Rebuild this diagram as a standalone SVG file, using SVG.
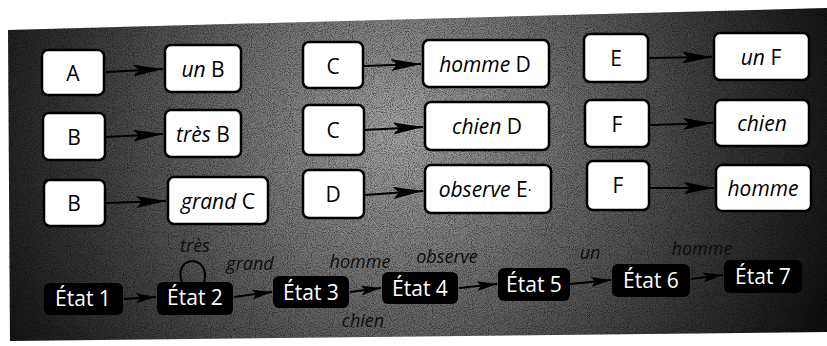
<svg xmlns="http://www.w3.org/2000/svg" width="827" height="346" viewBox="0 0 827 346">
<style>
.box{fill:#fff;stroke:#000;stroke-width:2.5}
.st{fill:#000}
.t{font-family:"Open Sans","DejaVu Sans",sans-serif;font-size:21px;fill:#000;text-anchor:middle;dominant-baseline:central}
.i{font-style:italic}
.w{fill:#fff}
.lbl{font-family:"Open Sans","DejaVu Sans",sans-serif;font-size:18px;font-style:italic;fill:#0d0d0d;text-anchor:middle}
.c{stroke:#000;stroke-width:2;fill:none}
</style>
<defs>
<radialGradient id="bg" cx="400" cy="130" r="460" gradientUnits="userSpaceOnUse">
<stop offset="0" stop-color="#a8a8a8"/>
<stop offset="0.3" stop-color="#7a7a7a"/>
<stop offset="0.7" stop-color="#3a3a3a"/>
<stop offset="1" stop-color="#101010"/>
</radialGradient>
<filter id="noise" x="0" y="0" width="100%" height="100%">
<feTurbulence type="fractalNoise" baseFrequency="0.95" numOctaves="2" seed="5" result="n"/>
<feColorMatrix in="n" type="matrix" values="0 0 0 0 0  0 0 0 0 0  0 0 0 0 0  0 0 0 -2.2 1.3" result="a"/>
<feComposite in="a" in2="SourceGraphic" operator="in"/>
</filter>
<marker id="ah" viewBox="0 0 30 12" refX="30" refY="6" markerWidth="30" markerHeight="12" markerUnits="userSpaceOnUse" orient="auto">
<path d="M0,0 L30,6 L0,12 L6,6 Z" fill="#000"/>
</marker>
<marker id="ahs" viewBox="0 0 20 10" refX="20" refY="5" markerWidth="20" markerHeight="10" markerUnits="userSpaceOnUse" orient="auto">
<path d="M0,0 L20,5 L0,10 L4,5 Z" fill="#000"/>
</marker>
</defs>
<rect width="827" height="346" fill="#fff"/>
<polygon points="8,30 827,8 827,332 10,341" fill="url(#bg)"/>
<polygon points="8,30 827,8 827,332 10,341" fill="#000" filter="url(#noise)" opacity="0.6"/>

<g id="connectors">
<line class="c" x1="106" y1="72" x2="163" y2="69" marker-end="url(#ah)"/>
<line class="c" x1="106" y1="137" x2="163" y2="134" marker-end="url(#ah)"/>
<line class="c" x1="106" y1="203" x2="166" y2="201" marker-end="url(#ah)"/>
<line class="c" x1="364" y1="66" x2="421" y2="64" marker-end="url(#ah)"/>
<line class="c" x1="364" y1="130" x2="423" y2="127" marker-end="url(#ah)"/>
<line class="c" x1="364" y1="195" x2="423" y2="191" marker-end="url(#ah)"/>
<line class="c" x1="649" y1="58" x2="712" y2="57" marker-end="url(#ah)"/>
<line class="c" x1="650" y1="125" x2="713" y2="123" marker-end="url(#ah)"/>
<line class="c" x1="650" y1="188" x2="714" y2="188" marker-end="url(#ah)"/>
<line class="c" x1="124" y1="299" x2="156" y2="297" marker-end="url(#ahs)"/>
<path class="c" d="M182,283 C172,254 212,254 204,283"/>
<line class="c" x1="234" y1="297" x2="272" y2="292" marker-end="url(#ahs)"/>
<line class="c" x1="350" y1="292" x2="381" y2="288" marker-end="url(#ahs)"/>
<line class="c" x1="459" y1="288" x2="497" y2="284" marker-end="url(#ahs)"/>
<line class="c" x1="570" y1="284" x2="611" y2="280" marker-end="url(#ahs)"/>
<line class="c" x1="691" y1="279" x2="723" y2="275" marker-end="url(#ahs)"/>
<text class="lbl" x="195" y="252">très</text>
<text class="lbl" x="250" y="270">grand</text>
<text class="lbl" x="360" y="268">homme</text>
<text class="lbl" x="447" y="263">observe</text>
<text class="lbl" x="590" y="259">un</text>
<text class="lbl" x="702" y="255">homme</text>
<text class="lbl" x="363" y="327">chien</text>
</g>

<g id="n-A"><rect class="box" x="42" y="50" width="62" height="45" rx="6"/><text class="t" x="73" y="73">A</text></g>
<g id="n-unB"><rect class="box" x="165" y="45" width="76" height="47" rx="6"/><text class="t" x="203" y="69"><tspan class="i">un</tspan> B</text></g>
<g id="n-C1"><rect class="box" x="303" y="42" width="60" height="46" rx="6"/><text class="t" x="333" y="66">C</text></g>
<g id="n-hommeD"><rect class="box" x="423" y="40" width="126" height="47" rx="6"/><text class="t" x="485" y="64"><tspan class="i">homme</tspan> D</text></g>
<g id="n-E"><rect class="box" x="584" y="34" width="64" height="48" rx="6"/><text class="t" x="616" y="58">E</text></g>
<g id="n-unF"><rect class="box" x="714" y="33" width="95" height="47" rx="6"/><text class="t" x="761" y="57"><tspan class="i">un</tspan> F</text></g>

<g id="n-B1"><rect class="box" x="43" y="113" width="62" height="47" rx="6"/><text class="t" x="74" y="137">B</text></g>
<g id="n-tresB"><rect class="box" x="165" y="110" width="76" height="47" rx="6"/><text class="t" x="203" y="134"><tspan class="i">très</tspan> B</text></g>
<g id="n-C2"><rect class="box" x="303" y="105" width="61" height="50" rx="6"/><text class="t" x="333" y="130">C</text></g>
<g id="n-chienD"><rect class="box" x="425" y="102" width="124" height="48" rx="6"/><text class="t" x="487" y="126"><tspan class="i">chien</tspan> D</text></g>
<g id="n-F1"><rect class="box" x="585" y="100" width="64" height="47" rx="6"/><text class="t" x="617" y="124">F</text></g>
<g id="n-chien"><rect class="box" x="715" y="100" width="94" height="46" rx="6"/><text class="t i" x="762" y="123">chien</text></g>

<g id="n-B2"><rect class="box" x="44" y="180" width="61" height="46" rx="6"/><text class="t" x="74" y="203">B</text></g>
<g id="n-grandC"><rect class="box" x="168" y="177" width="100" height="47" rx="6"/><text class="t" x="218" y="201"><tspan class="i">grand</tspan> C</text></g>
<g id="n-D"><rect class="box" x="303" y="170" width="61" height="48" rx="6"/><text class="t" x="333" y="194">D</text></g>
<g id="n-observeE"><rect class="box" x="425" y="165" width="126" height="48" rx="6"/><text class="t" x="485" y="189"><tspan class="i">observe</tspan> E<tspan font-size="14">·</tspan></text></g>
<g id="n-F2"><rect class="box" x="587" y="161" width="62" height="49" rx="6"/><text class="t" x="618" y="185">F</text></g>
<g id="n-homme"><rect class="box" x="716" y="165" width="95" height="46" rx="6"/><text class="t i" x="763" y="188">homme</text></g>

<g id="etat1"><rect class="st" x="44" y="283" width="79" height="32" rx="6"/><text class="t w" x="83" y="298">État 1</text></g>
<g id="etat2"><rect class="st" x="157" y="282" width="76" height="33" rx="6"/><text class="t w" x="195" y="297">État 2</text></g>
<g id="etat3"><rect class="st" x="273" y="276" width="76" height="32" rx="6"/><text class="t w" x="311" y="292">État 3</text></g>
<g id="etat4"><rect class="st" x="382" y="272" width="76" height="32" rx="6"/><text class="t w" x="420" y="288">État 4</text></g>
<g id="etat5"><rect class="st" x="498" y="268" width="72" height="33" rx="6"/><text class="t w" x="534" y="284">État 5</text></g>
<g id="etat6"><rect class="st" x="612" y="264" width="78" height="33" rx="6"/><text class="t w" x="651" y="280">État 6</text></g>
<g id="etat7"><rect class="st" x="724" y="260" width="78" height="33" rx="6"/><text class="t w" x="763" y="276">État 7</text></g>
</svg>
